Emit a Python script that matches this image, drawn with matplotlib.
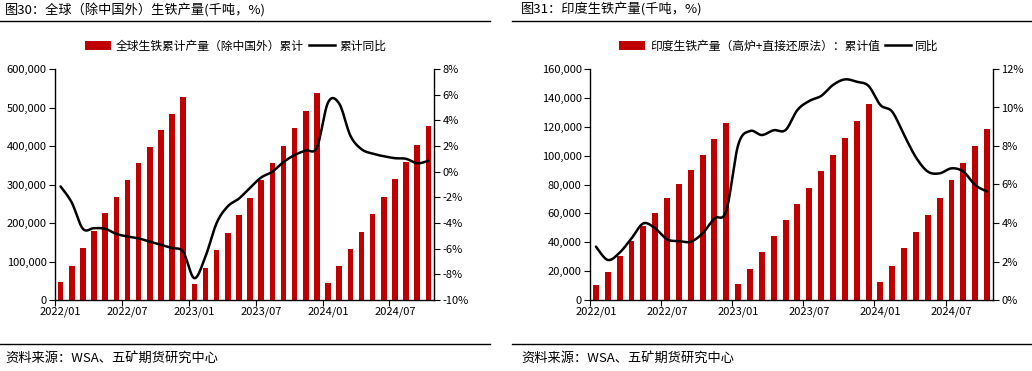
import numpy as np
import matplotlib
matplotlib.use("Agg")
import matplotlib.pyplot as plt
from matplotlib.lines import Line2D
from matplotlib.patches import Patch

plt.rcParams['font.family'] = ['Noto Sans CJK SC', 'DejaVu Sans']

# ---------------- data ----------------
months = [f"{y}/{m:02d}" for y in (2022, 2023, 2024) for m in range(1, 13)][:34]
tick_labels = ["2022/01", "2022/07", "2023/01", "2023/07", "2024/01", "2024/07"]

# Left: global pig iron (ex China), cumulative output (kt) and cumulative YoY (%)
world_cum = [46700, 88200, 134900, 179000, 225700, 267200, 311300, 355400, 396900, 441000, 482500, 526500,
             41500, 83000, 129700, 173800, 220500, 264600, 311300, 355400, 399400, 446100, 490200, 536900,
             44100, 88200, 132300, 176400, 223100, 267200, 313800, 357900, 402000, 451300]
world_yoy = [-1.15, -2.4, -4.45, -4.4, -4.45, -4.85, -5.05, -5.2, -5.45, -5.7, -5.95, -6.25,
             -8.3, -6.6, -4.0, -2.7, -2.1, -1.25, -0.45, 0.0, 0.75, 1.3, 1.65, 1.9,
             5.4, 5.3, 2.8, 1.75, 1.4, 1.2, 1.05, 1.0, 0.65, 0.85]

# Right: India pig iron (BF + DRI), cumulative output (kt) and YoY (%)
india_cum = [10400, 19400, 30500, 40900, 51300, 60300, 70700, 80400, 90100, 100400, 111500, 122600,
             11100, 21500, 33300, 44300, 55400, 66500, 77600, 89400, 100400, 112200, 124000, 135800,
             12500, 23600, 36000, 47100, 58900, 70700, 83100, 94900, 106700, 118500]
india_yoy = [2.77, 2.08, 2.46, 3.2, 3.98, 3.72, 3.15, 3.06, 3.03, 3.46, 4.24, 4.64,
             8.05, 8.78, 8.57, 8.82, 8.83, 9.87, 10.34, 10.6, 11.17, 11.46, 11.34, 11.12,
             10.13, 9.78, 8.57, 7.41, 6.67, 6.58, 6.84, 6.67, 5.97, 5.63]

RED = "#C00000"


def smooth(x, y, n=12):
    """Catmull-Rom style smoothing for drawing (like a smoothed Excel line)."""
    x = np.asarray(x, float)
    y = np.asarray(y, float)
    px = np.concatenate([[x[0]], x, [x[-1]]])
    py = np.concatenate([[y[0]], y, [y[-1]]])
    xs, ys = [], []
    t = np.linspace(0, 1, n, endpoint=False)
    for i in range(1, len(px) - 2):
        p0, p1, p2, p3 = py[i - 1], py[i], py[i + 1], py[i + 2]
        q0, q1, q2, q3 = px[i - 1], px[i], px[i + 1], px[i + 2]
        for arr, a0, a1, a2, a3 in ((ys, p0, p1, p2, p3), (xs, q0, q1, q2, q3)):
            arr.extend(0.5 * ((2 * a1) + (-a0 + a2) * t + (2 * a0 - 5 * a1 + 4 * a2 - a3) * t ** 2
                              + (-a0 + 3 * a1 - 3 * a2 + a3) * t ** 3))
    xs.append(x[-1])
    ys.append(y[-1])
    return np.array(xs), np.array(ys)


fig = plt.figure(figsize=(10.32, 3.71), dpi=100)
W, H = 1032, 371


def ax_rect(l, r, t, b):
    return [l / W, 1 - b / H, (r - l) / W, (b - t) / H]


def style(ax, ax2):
    for a in (ax, ax2):
        a.spines['top'].set_visible(False)
        for s in a.spines.values():
            s.set_linewidth(1.0)
            s.set_color("black")
    ax.spines['right'].set_visible(False)
    ax2.spines['left'].set_visible(False)
    ax2.spines['bottom'].set_visible(False)
    ax.tick_params(axis='y', labelsize=8, length=4, width=0.8, colors='black', direction='out', pad=2)
    ax.tick_params(axis='x', which='major', labelsize=8, length=0, colors='black', pad=5)
    ax.tick_params(axis='x', which='minor', length=4, width=0.8, colors='black', direction='out')
    ax2.tick_params(axis='y', labelsize=8, length=4, width=0.8, colors='black', direction='out', pad=2)


def draw_panel(rect, bars, line, ymax, ystep, y2min, y2max, y2step, title, leg_bar, leg_line,
               tx, line_x0, line_x1, leg_x):
    ax = fig.add_axes(rect)
    ax2 = ax.twinx()
    x = np.arange(len(months))
    ax.bar(x, bars, width=0.5, color=RED, zorder=2)
    ax.set_xlim(-0.5, len(months) - 0.5)
    ax.set_ylim(0, ymax)
    yt = np.arange(0, ymax + 1, ystep)
    ax.set_yticks(yt)
    ax.set_yticklabels([f"{int(v):,}" for v in yt])
    ax.set_xticks([6 * i for i in range(len(tick_labels))])
    ax.set_xticklabels(tick_labels)
    ax.set_xticks([-0.5 + 6 * i for i in range(len(tick_labels))], minor=True)
    sx, sy = smooth(x, line)
    ax2.plot(sx, sy, color="black", lw=1.8, zorder=3, solid_capstyle='round')
    ax2.set_ylim(y2min, y2max)
    y2t = np.arange(y2min, y2max + 0.01, y2step)
    ax2.set_yticks(y2t)
    ax2.set_yticklabels([f"{int(v)}%" for v in y2t])
    style(ax, ax2)
    # title and rules
    fig.text(tx / W, 1 - 10 / H, title, fontsize=9.5, va='center', ha='left')
    fig.add_artist(Line2D([line_x0 / W, line_x1 / W], [1 - 21 / H, 1 - 21 / H], color='black', lw=1.0))
    fig.add_artist(Line2D([line_x0 / W, line_x1 / W], [1 - 344 / H, 1 - 344 / H], color='black', lw=1.0))
    fig.text(tx / W, 1 - 358 / H, "资料来源：WSA、五矿期货研究中心", fontsize=9.5, va='center', ha='left')
    # legend
    handles = [Patch(facecolor=RED, edgecolor='none'), Line2D([], [], color='black', lw=1.8)]
    fig.legend(handles, [leg_bar, leg_line], loc='center', bbox_to_anchor=(leg_x / W, 1 - 46 / H),
               ncol=2, frameon=False, fontsize=8.5, handlelength=2.2, handleheight=0.7,
               handletextpad=0.4, columnspacing=0.4, borderaxespad=0)
    return ax, ax2


draw_panel(ax_rect(55, 434, 69, 300), world_cum, world_yoy, 600000, 100000, -10, 8, 2,
           "图30：全球（除中国外）生铁产量(千吨，%)", "全球生铁累计产量（除中国外）累计", "累计同比",
           5, 0, 490, 236)
draw_panel(ax_rect(590, 993, 69, 300), india_cum, india_yoy, 160000, 20000, 0, 12, 2,
           "图31：印度生铁产量(千吨，%)", "印度生铁产量（高炉+直接还原法）：累计值", "同比",
           521, 512, 1032, 779)

fig.savefig("out.png", dpi=100)
